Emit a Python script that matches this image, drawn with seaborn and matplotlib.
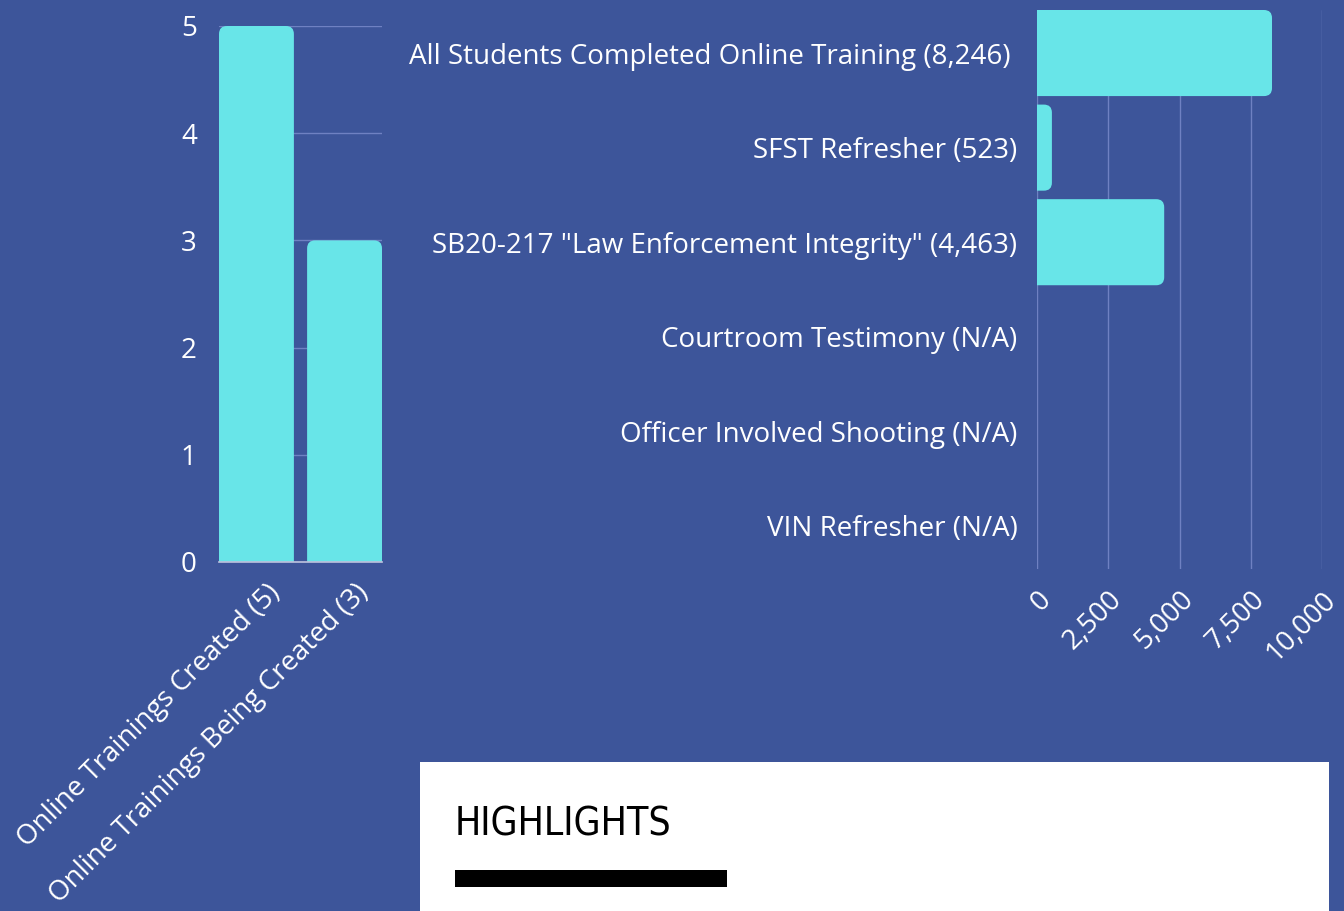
import matplotlib
matplotlib.use('Agg')
import matplotlib.pyplot as plt
import matplotlib.transforms as mtransforms
import seaborn as sns
import pandas as pd
from matplotlib.patches import Rectangle, FancyBboxPatch

# data
created_labels = ['Online Trainings Created (5)', 'Online Trainings Being Created (3)']
created_values = [5, 3]

course_labels = ['All Students Completed Online Training (8,246) ',
                 'SFST Refresher (523)',
                 'SB20-217 "Law Enforcement Integrity" (4,463)',
                 'Courtroom Testimony (N/A)',
                 'Officer Involved Shooting (N/A)',
                 'VIN Refresher (N/A)']
course_values = [8246, 523, 4463, 0, 0, 0]

BG = '#3d559a'
BAR = '#68e5e8'
GRID = '#6f81c2'
W, H = 1344, 911
FS = 20
RADIUS = 8  # px

sns.set_theme(style='white')
plt.rcParams['font.family'] = ['Open Sans', 'DejaVu Sans']

fig = plt.figure(figsize=(W / 100, H / 100), dpi=100, facecolor=BG)

def box(l, t, r, b):
    return [l / W, (H - b) / H, (r - l) / W, (b - t) / H]

def round_bars(ax, xpx, ypx, vertical):
    # swap seaborn's rectangles for ones with rounded outer corners;
    # the base end is pushed past the axis so its corners get clipped
    r = RADIUS * xpx
    aspect = ypx / xpx
    for p in list(ax.patches):
        x, y, w, h = p.get_x(), p.get_y(), p.get_width(), p.get_height()
        p.remove()
        if (h if vertical else w) <= 0:
            continue
        if vertical:
            y, h = y - 2 * RADIUS * ypx, h + 2 * RADIUS * ypx
        else:
            x, w = x - 2 * r, w + 2 * r
        fb = FancyBboxPatch((x, y), w, h,
                            boxstyle=f'round,pad=0,rounding_size={r}',
                            mutation_aspect=aspect, facecolor=BAR,
                            edgecolor='none', zorder=2)
        ax.add_patch(fb)
        fb.set_clip_path(ax.patch)

# left chart
ax1 = fig.add_axes(box(219, 26, 382, 562))
df1 = pd.DataFrame({'label': created_labels, 'value': created_values})
sns.barplot(data=df1, x='label', y='value', color=BAR, width=0.85,
            saturation=1, linewidth=0, ax=ax1, zorder=2)
ax1.set_xlim(-0.425, 1.425)
ax1.set_ylim(0, 5)
round_bars(ax1, 1.85 / 163, 5 / 536, vertical=True)
ax1.set_facecolor(BG)
ax1.grid(axis='y', color=GRID, linewidth=1, zorder=0)
ax1.set_axisbelow(True)
for s in ['top', 'right', 'left']:
    ax1.spines[s].set_visible(False)
ax1.spines['bottom'].set_color('#b9c0dc')
ax1.spines['bottom'].set_zorder(3)
ax1.set_xlabel('')
ax1.set_ylabel('')
ax1.tick_params(axis='y', colors='white', labelsize=FS, length=0, pad=16)
ax1.tick_params(axis='x', colors='white', labelsize=FS, length=0, pad=12)
shift = mtransforms.ScaledTranslation(10 / 100, 0, fig.dpi_scale_trans)
for t in ax1.get_xticklabels():
    t.set_rotation(45)
    t.set_ha('right')
    t.set_rotation_mode('anchor')
    t.set_transform(t.get_transform() + shift)

# right chart
ax2 = fig.add_axes(box(1037, 10, 1322, 569))
df2 = pd.DataFrame({'course': course_labels, 'value': course_values})
sns.barplot(data=df2, y='course', x='value', color=BAR, width=0.91,
            saturation=1, linewidth=0, orient='h', ax=ax2, zorder=2)
ax2.set_xlim(0, 10000)
ax2.set_ylim(5.455, -0.455)
round_bars(ax2, 10000 / 285, 5.91 / 559, vertical=False)
ax2.set_xticks([0, 2500, 5000, 7500, 10000])
ax2.set_xticklabels(['0', '2,500', '5,000', '7,500', '10,000'])
ax2.set_facecolor(BG)
ax2.grid(axis='x', color=GRID, linewidth=1, zorder=0)
ax2.set_axisbelow(True)
for s in ax2.spines.values():
    s.set_visible(False)
ax2.set_xlabel('')
ax2.set_ylabel('')
ax2.tick_params(axis='y', colors='white', labelsize=FS, length=0, pad=14)
ax2.tick_params(axis='x', colors='white', labelsize=FS, length=0, pad=12)
for t in ax2.get_xticklabels():
    t.set_rotation(45)
    t.set_ha('right')
    t.set_rotation_mode('anchor')

# highlights panel
fig.patches.append(Rectangle((420 / W, 0), (1329 - 420) / W, (911 - 762) / H,
                             transform=fig.transFigure, facecolor='white',
                             edgecolor='none', zorder=0))
fig.text(455 / W, (H - 825) / H, 'HIGHLIGHTS', fontsize=28, color='black',
         fontfamily='DejaVu Sans', fontstretch='condensed', fontweight='light',
         ha='left', va='center')
fig.patches.append(Rectangle((455 / W, (H - 887) / H), (727 - 455) / W, 17 / H,
                             transform=fig.transFigure, facecolor='black',
                             edgecolor='none'))

fig.savefig('out.png', dpi=100, facecolor=BG)
